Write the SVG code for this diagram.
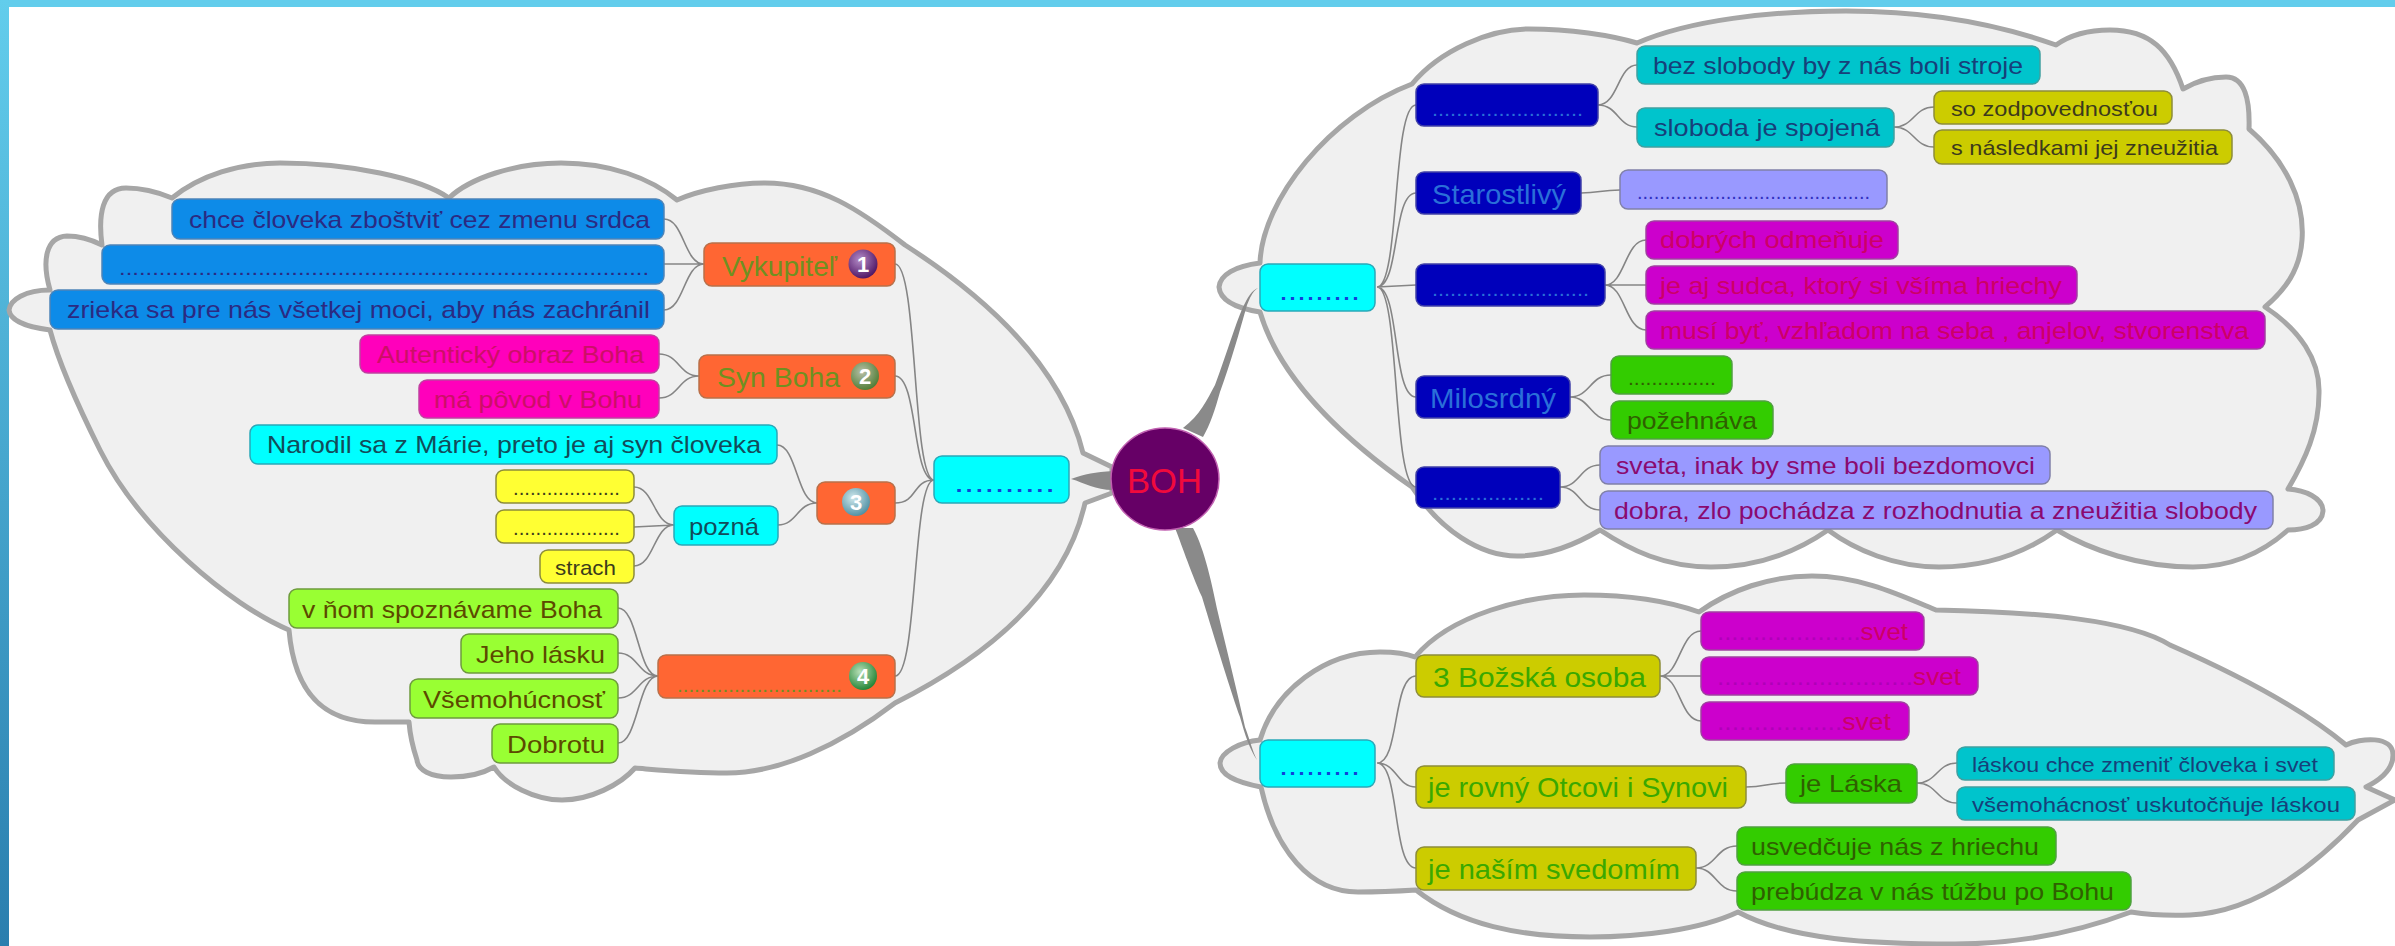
<svg xmlns="http://www.w3.org/2000/svg" width="2395" height="946" viewBox="0 0 2395 946">
<style>
text{font-family:"Liberation Sans",Arial,sans-serif;font-size:24px}
.cloud{fill:#f0f0f0;stroke:#a6a6a6;stroke-width:5;stroke-linejoin:round}
.c{fill:none;stroke:#858585;stroke-width:1.6}
.t{fill:#8a8a8a;stroke:none}
rect{stroke-width:1.5}
.blue{fill:#0d8be8;stroke:#4d84b8}
.mag{fill:#ff00bb;stroke:#c040a0}
.cya{fill:#00ffff;stroke:#2aa8b8}
.org{fill:#ff6633;stroke:#b8704a}
.yel{fill:#ffff33;stroke:#8c8c3a}
.lim{fill:#99ff33;stroke:#6e9a3e}
.nav{fill:#0000bb;stroke:#4040a8}
.tea{fill:#00c4cc;stroke:#40a0a0}
.oli{fill:#cccc00;stroke:#8c8c3a}
.lav{fill:#9999ff;stroke:#8080a8}
.pur{fill:#cc00cc;stroke:#a040a0}
.grn{fill:#33cc00;stroke:#50a040}
.tb{fill:#2b2a82}.tm{fill:#cc0f66}.td{fill:#124c5a}.tg{fill:#6f9020;font-size:28px}
.ty{fill:#3c3c1c}.tl{fill:#5c4a00}.tn{fill:#2a6fd8;font-size:28px}.tt{fill:#16407a}
.to{fill:#3c3a1c}.tsg{fill:#3aa800;font-size:28px}.tp{fill:#8a0a70}.tv{fill:#cc0066}.tdg{fill:#2f6000}
.small{font-size:21px}
.d{font-size:20px}
.dc{fill:#1040d8;font-size:28px}
.num{font-size:22px;font-weight:bold;fill:#fff;text-anchor:middle}
</style>
<defs>
<linearGradient id="strip" x1="0" y1="0" x2="0" y2="1"><stop offset="0" stop-color="#62cdec"/><stop offset="1" stop-color="#2a7eae"/></linearGradient>
<radialGradient id="b1" cx=".4" cy=".35" r=".7"><stop offset="0" stop-color="#b48cc8"/><stop offset="1" stop-color="#4a1060"/></radialGradient>
<radialGradient id="b2" cx=".4" cy=".35" r=".7"><stop offset="0" stop-color="#b8c0a8"/><stop offset="1" stop-color="#4c7a30"/></radialGradient>
<radialGradient id="b3" cx=".4" cy=".35" r=".7"><stop offset="0" stop-color="#d0e8ec"/><stop offset="1" stop-color="#4a8ca0"/></radialGradient>
<radialGradient id="b4" cx=".4" cy=".35" r=".7"><stop offset="0" stop-color="#b8e0b8"/><stop offset="1" stop-color="#1c8030"/></radialGradient>
</defs>
<rect width="2395" height="946" fill="#fff" stroke="none"/>
<rect width="2395" height="7" fill="#62cdec" stroke="none"/>
<rect width="9" height="946" fill="url(#strip)" stroke="none"/>
<g id="clouds">
<path class="cloud" d="M50,290C25,290 10,300 9,310C10,320 25,327 50,330C58,360 75,400 100,450C140,530 230,605 289,630C295,700 330,722 375,722L409,722C410,735 412,745 417,760C418,770 430,777 451,777C465,777 480,775 494,767C505,785 535,800 562,800C590,800 620,785 635,768C660,770 690,773 727,773C780,773 840,745 895,703C1020,640 1070,570 1085,503L1112,493L1112,467L1083,453C1060,360 975,290 905,245C860,210 820,183 765,183C735,183 700,190 677,200C650,178 610,163 561,163C515,163 470,178 449,198C420,178 350,163 280,163C240,163 200,175 172,198C160,193 145,188 126,188C102,188 98,215 102,245C92,240 80,236 67,236C45,237 42,262 50,290Z"/>
<path class="cloud" d="M1260,312C1235,308 1220,300 1219,287C1220,275 1235,266 1260,263C1262,200 1330,115 1412,84C1440,50 1490,29 1529,29C1570,29 1610,35 1637,43C1690,20 1770,11 1846,11C1930,11 2000,25 2056,45C2070,35 2090,30 2110,30C2150,30 2170,50 2183,89C2195,82 2210,77 2226,77C2245,77 2250,100 2249,129C2285,160 2305,200 2302,240C2300,270 2285,290 2265,307C2300,330 2320,360 2319,393C2319,430 2305,460 2288,489C2305,490 2323,498 2323,511C2322,525 2305,530 2288,530C2260,555 2230,567 2193,567C2140,567 2090,550 2057,530C2025,553 1985,567 1939,567C1895,567 1855,550 1828,530C1795,553 1755,567 1711,567C1665,567 1630,550 1600,530C1575,545 1545,556 1517,556C1480,556 1440,530 1412,487C1345,440 1280,380 1260,312Z"/>
<path class="cloud" d="M1261,787C1235,782 1220,775 1220,763C1221,752 1240,742 1260,740C1275,690 1325,652 1380,652C1392,652 1405,653 1415,657C1450,615 1525,595 1584,595C1625,595 1665,600 1699,612C1730,590 1770,576 1812,576C1860,576 1900,595 1936,610C2040,612 2130,620 2170,645C2250,680 2310,715 2346,745C2360,738 2393,735 2393,755C2393,770 2380,780 2366,787L2395,800L2358,820C2320,860 2260,912 2190,915C2165,916 2150,915 2131,912C2070,935 2010,944 1955,944C1870,944 1790,940 1738,912C1700,930 1640,937 1590,937C1520,937 1460,925 1416,890C1400,891 1380,892 1358,892C1310,892 1275,850 1261,787Z"/>
</g>
<g id="connectors">
<path class="t" d="M1183,428C1200,415 1207,400 1215,385C1227,353 1235,325 1243,307C1248,297 1252,290 1258,288C1252,292 1250,298 1247,305C1240,330 1230,365 1220,392C1215,410 1210,425 1203,437Z"/>
<path class="t" d="M1113,471C1095,472 1085,474 1071,479C1085,483 1095,490 1113,490Z"/>
<path class="t" d="M1175,528C1180,540 1190,570 1202,597C1215,640 1232,695 1240,717C1245,735 1250,750 1257,760C1252,750 1250,740 1245,727C1238,695 1228,655 1218,613C1212,585 1205,550 1193,528Z"/>
<path class="c" d="M664,219C684,219 684,264 704,264M664,264L704,264M664,310C684,310 684,264 704,264M659,354C679,354 679,376 699,376M659,398C679,398 679,376 699,376M777,445C797,445 797,503 817,503M778,525C797,525 797,503 817,503M634,487C654,487 654,525 674,525M634,527L674,525M634,566C654,566 654,525 674,525M618,608C638,608 638,676 658,676M618,653C638,653 638,676 658,676M618,698C638,698 638,676 658,676M618,743C638,743 638,676 658,676M895,264C918,264 912,480 934,480M895,376C918,376 912,480 934,480M895,503C918,503 912,480 934,480M895,676C918,676 912,480 934,480"/>
<path class="c" d="M1377,287C1400,287 1392,105 1416,105M1377,287C1400,287 1392,193 1416,193M1377,287L1416,285M1377,287C1400,287 1392,397 1416,397M1377,287C1400,287 1392,487 1416,487M1598,105C1618,105 1618,65 1637,65M1598,105C1618,105 1618,127 1637,127M1894,127C1914,127 1914,107 1934,107M1894,127C1914,127 1914,147 1934,147M1581,193C1600,193 1600,190 1620,190M1605,285C1625,285 1625,240 1646,240M1605,285L1646,285M1605,285C1625,285 1625,330 1646,330M1570,397C1590,397 1590,375 1611,375M1570,397C1590,397 1590,420 1611,420M1560,487C1580,487 1580,465 1600,465M1560,487C1580,487 1580,510 1600,510"/>
<path class="c" d="M1377,763C1400,763 1392,676 1416,676M1377,763C1397,763 1397,787 1416,787M1377,763C1400,763 1392,868 1416,868M1660,676C1680,676 1680,631 1701,631M1660,676L1701,676M1660,676C1680,676 1680,721 1701,721M1746,787C1766,787 1766,783 1786,783M1917,783C1937,783 1937,763 1957,763M1917,783C1937,783 1937,803 1957,803M1696,868C1716,868 1716,846 1737,846M1696,868C1716,868 1716,891 1737,891"/>
</g>
<g id="boh"><ellipse cx="1165" cy="479" rx="54" ry="51" fill="#660066" stroke="#c060b0" stroke-width="1.5"/><text x="1127" y="493" textLength="75" lengthAdjust="spacingAndGlyphs" style="font-size:35px;fill:#f00a3c">BOH</text></g>

<g id="n-chce"><rect class="blue" x="172" y="199" width="492" height="40" rx="8"/><text class="tb" x="189" y="228" textLength="461" lengthAdjust="spacingAndGlyphs">chce človeka zboštviť cez zmenu srdca</text></g>
<g id="n-blue-dots"><rect class="blue" x="102" y="245" width="562" height="39" rx="8"/><text class="tb d" x="119" y="275" textLength="530" lengthAdjust="spacingAndGlyphs">................................................................................</text></g>
<g id="n-zrieka"><rect class="blue" x="50" y="290" width="614" height="39" rx="8"/><text class="tb" x="67" y="318" textLength="583" lengthAdjust="spacingAndGlyphs">zrieka sa pre nás všetkej moci, aby nás zachránil</text></g>
<g id="n-aut"><rect class="mag" x="360" y="335" width="299" height="38" rx="8"/><text class="tm" x="377" y="363" textLength="267" lengthAdjust="spacingAndGlyphs">Autentický obraz Boha</text></g>
<g id="n-ma"><rect class="mag" x="419" y="380" width="240" height="38" rx="8"/><text class="tm" x="434" y="408" textLength="208" lengthAdjust="spacingAndGlyphs">má pôvod v Bohu</text></g>
<g id="n-narodil"><rect class="cya" x="250" y="425" width="527" height="39" rx="8"/><text class="td" x="267" y="453" textLength="494" lengthAdjust="spacingAndGlyphs">Narodil sa z Márie, preto je aj syn človeka</text></g>
<g id="n-y1"><rect class="yel" x="496" y="470" width="138" height="33" rx="8"/><text class="ty d" x="513" y="495" textLength="107" lengthAdjust="spacingAndGlyphs">...................</text></g>
<g id="n-y2"><rect class="yel" x="496" y="510" width="138" height="33" rx="8"/><text class="ty d" x="513" y="535" textLength="107" lengthAdjust="spacingAndGlyphs">...................</text></g>
<g id="n-strach"><rect class="yel" x="540" y="550" width="94" height="33" rx="8"/><text class="ty small" x="555" y="575" textLength="61" lengthAdjust="spacingAndGlyphs">strach</text></g>
<g id="n-pozna"><rect class="cya" x="674" y="506" width="104" height="39" rx="8"/><text class="td" x="689" y="535" textLength="70" lengthAdjust="spacingAndGlyphs">pozná</text></g>
<g id="n-vnom"><rect class="lim" x="289" y="589" width="329" height="39" rx="8"/><text class="tl" x="302" y="618" textLength="300" lengthAdjust="spacingAndGlyphs">v ňom spoznávame Boha</text></g>
<g id="n-jeho"><rect class="lim" x="461" y="634" width="157" height="39" rx="8"/><text class="tl" x="476" y="663" textLength="129" lengthAdjust="spacingAndGlyphs">Jeho lásku</text></g>
<g id="n-vsemo"><rect class="lim" x="410" y="679" width="208" height="39" rx="8"/><text class="tl" x="423" y="708" textLength="182" lengthAdjust="spacingAndGlyphs">Všemohúcnosť</text></g>
<g id="n-dobrotu"><rect class="lim" x="492" y="724" width="126" height="39" rx="8"/><text class="tl" x="507" y="753" textLength="98" lengthAdjust="spacingAndGlyphs">Dobrotu</text></g>
<g id="n-vyk"><rect class="org" x="704" y="243" width="191" height="43" rx="8"/><text class="tg" x="722" y="276" textLength="115" lengthAdjust="spacingAndGlyphs">Vykupiteľ</text><circle cx="863" cy="264" r="14.5" fill="url(#b1)"/><text class="num" x="863" y="272">1</text></g>
<g id="n-syn"><rect class="org" x="699" y="355" width="196" height="43" rx="8"/><text class="tg" x="717" y="387" textLength="123" lengthAdjust="spacingAndGlyphs">Syn Boha</text><circle cx="865" cy="376" r="14" fill="url(#b2)"/><text class="num" x="865" y="384">2</text></g>
<g id="n-3"><rect class="org" x="817" y="482" width="78" height="42" rx="8"/><circle cx="856" cy="502" r="14" fill="url(#b3)"/><text class="num" x="856" y="510">3</text></g>
<g id="n-4"><rect class="org" x="658" y="655" width="237" height="43" rx="8"/><text class="tg" x="677" y="692" textLength="165" lengthAdjust="spacingAndGlyphs" style="font-size:20px">.............................</text><circle cx="863" cy="676" r="14" fill="url(#b4)"/><text class="num" x="863" y="684">4</text></g>
<g id="n-left"><rect class="cya" x="934" y="456" width="135" height="47" rx="8"/><text class="dc" x="954" y="492" textLength="101" lengthAdjust="spacingAndGlyphs">..........</text></g>

<g id="n-top"><rect class="cya" x="1260" y="264" width="115" height="47" rx="8"/><text class="dc" x="1279" y="300" textLength="81" lengthAdjust="spacingAndGlyphs">.........</text></g>
<g id="n-b1"><rect class="nav" x="1416" y="84" width="182" height="42" rx="8"/><text class="tn" x="1432" y="116" textLength="151" lengthAdjust="spacingAndGlyphs" style="font-size:20px">.........................</text></g>
<g id="n-bez"><rect class="tea" x="1637" y="46" width="403" height="38" rx="8"/><text class="tt" x="1653" y="74" textLength="370" lengthAdjust="spacingAndGlyphs">bez slobody by z nás boli stroje</text></g>
<g id="n-slob"><rect class="tea" x="1637" y="108" width="257" height="39" rx="8"/><text class="tt" x="1654" y="136" textLength="226" lengthAdjust="spacingAndGlyphs">sloboda je spojená</text></g>
<g id="n-so"><rect class="oli" x="1934" y="91" width="238" height="33" rx="8"/><text class="to small" x="1951" y="116" textLength="207" lengthAdjust="spacingAndGlyphs">so zodpovednosťou</text></g>
<g id="n-sn"><rect class="oli" x="1934" y="130" width="298" height="34" rx="8"/><text class="to small" x="1951" y="155" textLength="267" lengthAdjust="spacingAndGlyphs">s následkami jej zneužitia</text></g>
<g id="n-star"><rect class="nav" x="1416" y="172" width="165" height="42" rx="8"/><text class="tn" x="1432" y="204" textLength="134" lengthAdjust="spacingAndGlyphs">Starostlivý</text></g>
<g id="n-lav"><rect class="lav" x="1620" y="170" width="267" height="39" rx="8"/><text x="1637" y="199" textLength="233" lengthAdjust="spacingAndGlyphs" style="fill:#3030c0;font-size:20px">..........................................</text></g>
<g id="n-b3"><rect class="nav" x="1416" y="264" width="189" height="42" rx="8"/><text class="tn" x="1432" y="296" textLength="157" lengthAdjust="spacingAndGlyphs" style="font-size:20px">..........................</text></g>
<g id="n-dobr"><rect class="pur" x="1646" y="221" width="252" height="38" rx="8"/><text class="tv" x="1660" y="248" textLength="224" lengthAdjust="spacingAndGlyphs">dobrých odmeňuje</text></g>
<g id="n-jeaj"><rect class="pur" x="1646" y="266" width="431" height="38" rx="8"/><text class="tv" x="1660" y="294" textLength="402" lengthAdjust="spacingAndGlyphs">je aj sudca, ktorý si všíma hriechy</text></g>
<g id="n-musi"><rect class="pur" x="1646" y="311" width="619" height="38" rx="8"/><text class="tv" x="1660" y="339" textLength="589" lengthAdjust="spacingAndGlyphs">musí byť, vzhľadom na seba , anjelov, stvorenstva</text></g>
<g id="n-mil"><rect class="nav" x="1416" y="376" width="154" height="42" rx="8"/><text class="tn" x="1430" y="408" textLength="126" lengthAdjust="spacingAndGlyphs">Milosrdný</text></g>
<g id="n-gd"><rect class="grn" x="1611" y="356" width="121" height="38" rx="8"/><text class="tdg" x="1628" y="385" textLength="88" lengthAdjust="spacingAndGlyphs" style="font-size:20px">...............</text></g>
<g id="n-poz"><rect class="grn" x="1611" y="401" width="162" height="38" rx="8"/><text class="tdg" x="1627" y="429" textLength="130" lengthAdjust="spacingAndGlyphs">požehnáva</text></g>
<g id="n-b5"><rect class="nav" x="1416" y="467" width="144" height="41" rx="8"/><text class="tn" x="1432" y="500" textLength="112" lengthAdjust="spacingAndGlyphs" style="font-size:20px">..................</text></g>
<g id="n-sveta"><rect class="lav" x="1600" y="446" width="450" height="38" rx="8"/><text class="tp" x="1616" y="474" textLength="419" lengthAdjust="spacingAndGlyphs">sveta, inak by sme boli bezdomovci</text></g>
<g id="n-dobra"><rect class="lav" x="1600" y="491" width="673" height="38" rx="8"/><text class="tp" x="1614" y="519" textLength="643" lengthAdjust="spacingAndGlyphs">dobra, zlo pochádza z rozhodnutia a zneužitia slobody</text></g>

<g id="n-bottom"><rect class="cya" x="1260" y="740" width="115" height="47" rx="8"/><text class="dc" x="1279" y="775" textLength="81" lengthAdjust="spacingAndGlyphs">.........</text></g>
<g id="n-3b"><rect class="oli" x="1416" y="655" width="244" height="42" rx="8"/><text class="tsg" x="1433" y="687" textLength="213" lengthAdjust="spacingAndGlyphs">3 Božská osoba</text></g>
<g id="n-s1"><rect class="pur" x="1701" y="612" width="223" height="38" rx="8"/><text class="tv" x="1717" y="640" textLength="191" lengthAdjust="spacingAndGlyphs"><tspan fill="#b000b8">....................</tspan>svet</text></g>
<g id="n-s2"><rect class="pur" x="1701" y="657" width="277" height="38" rx="8"/><text class="tv" x="1717" y="685" textLength="244" lengthAdjust="spacingAndGlyphs"><tspan fill="#b000b8">...........................</tspan>svet</text></g>
<g id="n-s3"><rect class="pur" x="1701" y="702" width="208" height="38" rx="8"/><text class="tv" x="1717" y="730" textLength="174" lengthAdjust="spacingAndGlyphs"><tspan fill="#b000b8">.................</tspan>svet</text></g>
<g id="n-rov"><rect class="oli" x="1416" y="766" width="330" height="42" rx="8"/><text class="tsg" x="1428" y="797" textLength="300" lengthAdjust="spacingAndGlyphs">je rovný Otcovi i Synovi</text></g>
<g id="n-las"><rect class="grn" x="1786" y="764" width="131" height="39" rx="8"/><text class="tdg" x="1800" y="792" textLength="102" lengthAdjust="spacingAndGlyphs">je Láska</text></g>
<g id="n-l1"><rect class="tea" x="1957" y="747" width="377" height="33" rx="8"/><text class="tt small" x="1972" y="772" textLength="346" lengthAdjust="spacingAndGlyphs">láskou chce zmeniť človeka i svet</text></g>
<g id="n-l2"><rect class="tea" x="1957" y="787" width="398" height="33" rx="8"/><text class="tt small" x="1972" y="812" textLength="368" lengthAdjust="spacingAndGlyphs">všemohácnosť uskutočňuje láskou</text></g>
<g id="n-nas"><rect class="oli" x="1416" y="847" width="280" height="43" rx="8"/><text class="tsg" x="1428" y="879" textLength="252" lengthAdjust="spacingAndGlyphs">je naším svedomím</text></g>
<g id="n-usv"><rect class="grn" x="1737" y="827" width="319" height="38" rx="8"/><text class="tdg" x="1751" y="855" textLength="288" lengthAdjust="spacingAndGlyphs">usvedčuje nás z hriechu</text></g>
<g id="n-preb"><rect class="grn" x="1737" y="872" width="394" height="38" rx="8"/><text class="tdg" x="1751" y="900" textLength="363" lengthAdjust="spacingAndGlyphs">prebúdza v nás túžbu po Bohu</text></g>
</svg>
